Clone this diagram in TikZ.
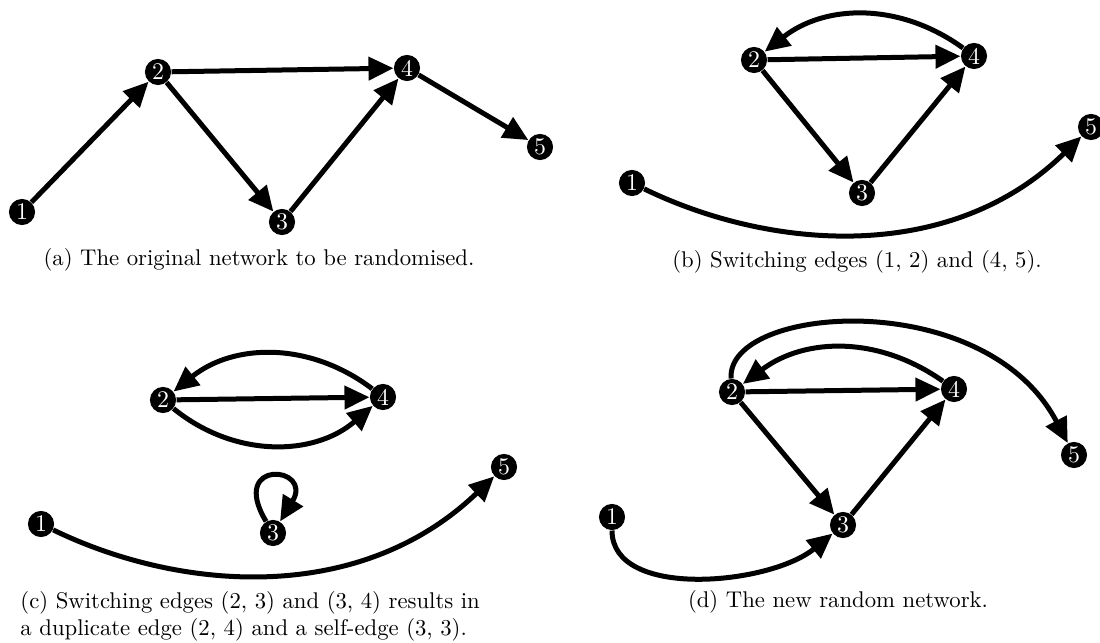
\documentclass[tikz,border=0pt]{standalone}
\usetikzlibrary{arrows.meta}
\begin{document}
\begin{tikzpicture}[x=0.44pt,y=-0.44pt,
  vtx/.style={circle,fill=black,text=white,inner sep=0pt,minimum size=11.5pt,font=\fontsize{10.5}{12}\selectfont},
  arr/.style={line width=2.2pt,-{Triangle[length=11pt,width=10pt]}},
  captext/.style={font=\fontsize{10}{12}\selectfont,inner sep=0pt}]
\useasboundingbox (0,0) rectangle (1100,643);

% (a)
\node[vtx] (a1) at (22,212) {1};
\node[vtx] (a2) at (158,72) {2};
\node[vtx] (a3) at (282,222) {3};
\node[vtx] (a4) at (407,68) {4};
\node[vtx] (a5) at (540,147) {5};
\draw[arr] (a1) -- (a2);
\draw[arr] (a2) -- (a4);
\draw[arr] (a2) -- (a3);
\draw[arr] (a3) -- (a4);
\draw[arr] (a4) -- (a5);
\node[captext] (capa) at (259,260) {(a) The original network to be randomised.};

% (b)
\node[vtx] (b1) at (632,183) {1};
\node[vtx] (b2) at (754,60) {2};
\node[vtx] (b3) at (862,193) {3};
\node[vtx] (b4) at (974,56) {4};
\node[vtx] (b5) at (1091,127) {5};
\draw[arr] (b2) -- (b4);
\draw[arr] (b2) -- (b3);
\draw[arr] (b3) -- (b4);
\draw[arr] (b4) to[bend right=37] (b2);
\draw[arr] (b1) .. controls (770,250) and (950,265) .. (b5);
\node[captext] (capb) at (857,262) {(b) Switching edges (1, 2) and (4, 5).};

% (c)
\node[vtx] (c1) at (41,524) {1};
\node[vtx] (c2) at (163,400) {2};
\node[vtx] (c3) at (273,533) {3};
\node[vtx] (c4) at (383,397) {4};
\node[vtx] (c5) at (504,467) {5};
\draw[arr] (c2) -- (c4);
\draw[arr] (c4) to[bend right=38] (c2);
\draw[arr] (c2) to[bend right=40] (c4);
\draw[arr] (c3) .. controls (228,458) and (314,466) .. (c3);
\draw[arr] (c1) .. controls (179,591) and (359,606) .. (c5);
\node[captext,anchor=base west] (capc1) at (20,608) {(c) Switching edges (2, 3) and (3, 4) results in};
\node[captext,anchor=base west] (capc2) at (20,635) {a duplicate edge (2, 4) and a self-edge (3, 3).};

% (d)
\node[vtx] (d1) at (612,517) {1};
\node[vtx] (d2) at (732,392) {2};
\node[vtx] (d3) at (843,525) {3};
\node[vtx] (d4) at (954,389) {4};
\node[vtx] (d5) at (1074,455) {5};
\draw[arr] (d2) -- (d4);
\draw[arr] (d2) -- (d3);
\draw[arr] (d3) -- (d4);
\draw[arr] (d4) to[bend right=36] (d2);
\draw[arr] (d2) .. controls (726,305) and (985,285) .. (d5);
\draw[arr] (d1) .. controls (612,600) and (770,585) .. (d3);
\node[captext] (capd) at (838,602) {(d) The new random network.};
\end{tikzpicture}
\end{document}
